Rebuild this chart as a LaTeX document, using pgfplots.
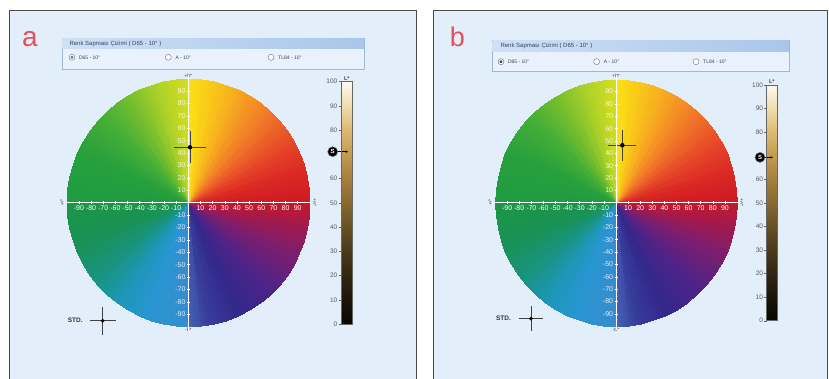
\documentclass[border=0pt]{standalone}
\usepackage{fontspec}
\setmainfont{Liberation Sans}
\usepackage{pgfplots}
\usepackage{pgfplotstable}
\pgfplotsset{compat=1.18}
\usetikzlibrary{arrows.meta}

\definecolor{panelbg}{HTML}{E2EEFA}
\definecolor{framecol}{HTML}{4A4A4A}
\definecolor{hdrbody}{HTML}{E8F1FC}
\definecolor{hdrborder}{HTML}{9FB6D6}
\definecolor{hdrL}{HTML}{CFE0F5}
\definecolor{hdrR}{HTML}{A9C6EA}
\definecolor{hdrtext}{HTML}{34465F}
\definecolor{radioblue}{HTML}{3A7BD5}
\definecolor{labred}{HTML}{E5505A}

\pgfplotstableread[row sep=\\]{
t r m\\
0 0 0\\ 6 0 6\\ 12 0 12\\ 18 0 18\\ 24 0 24\\ 30 0 30\\ 36 0 36\\ 42 0 42\\ 48 0 48\\ 54 0 54\\ 60 0 60\\ 66 0 66\\ 72 0 72\\ 78 0 78\\ 84 0 84\\ 90 0 90\\
90 0 100\\ 96 0 106\\ 102 0 112\\ 108 0 118\\ 114 0 124\\ 120 0 130\\ 126 0 136\\ 132 0 142\\ 138 0 148\\ 144 0 154\\ 150 0 160\\ 156 0 166\\ 162 0 172\\ 168 0 178\\ 174 0 184\\ 180 0 190\\
180 0 200\\ 186 0 206\\ 192 0 212\\ 198 0 218\\ 204 0 224\\ 210 0 230\\ 216 0 236\\ 222 0 242\\ 228 0 248\\ 234 0 254\\ 240 0 260\\ 246 0 266\\ 252 0 272\\ 258 0 278\\ 264 0 284\\ 270 0 290\\
270 0 300\\ 276 0 306\\ 282 0 312\\ 288 0 318\\ 294 0 324\\ 300 0 330\\ 306 0 336\\ 312 0 342\\ 318 0 348\\ 324 0 354\\ 330 0 360\\ 336 0 366\\ 342 0 372\\ 348 0 378\\ 354 0 384\\ 360 0 390\\
0 100 0\\ 6 100 6\\ 12 100 12\\ 18 100 18\\ 24 100 24\\ 30 100 30\\ 36 100 36\\ 42 100 42\\ 48 100 48\\ 54 100 54\\ 60 100 60\\ 66 100 66\\ 72 100 72\\ 78 100 78\\ 84 100 84\\ 90 100 90\\
90 100 100\\ 96 100 106\\ 102 100 112\\ 108 100 118\\ 114 100 124\\ 120 100 130\\ 126 100 136\\ 132 100 142\\ 138 100 148\\ 144 100 154\\ 150 100 160\\ 156 100 166\\ 162 100 172\\ 168 100 178\\ 174 100 184\\ 180 100 190\\
180 100 200\\ 186 100 206\\ 192 100 212\\ 198 100 218\\ 204 100 224\\ 210 100 230\\ 216 100 236\\ 222 100 242\\ 228 100 248\\ 234 100 254\\ 240 100 260\\ 246 100 266\\ 252 100 272\\ 258 100 278\\ 264 100 284\\ 270 100 290\\
270 100 300\\ 276 100 306\\ 282 100 312\\ 288 100 318\\ 294 100 324\\ 300 100 330\\ 306 100 336\\ 312 100 342\\ 318 100 348\\ 324 100 354\\ 330 100 360\\ 336 100 366\\ 342 100 372\\ 348 100 378\\ 354 100 384\\ 360 100 390\\
}\wheeltab

\pgfplotstableread[row sep=\\]{
x y\\
0 0\\ 1 0\\ 0 10\\ 1 10\\ 0 20\\ 1 20\\ 0 30\\ 1 30\\ 0 40\\ 1 40\\ 0 50\\ 1 50\\
0 60\\ 1 60\\ 0 70\\ 1 70\\ 0 80\\ 1 80\\ 0 90\\ 1 90\\ 0 100\\ 1 100\\
}\lbartab

\pgfplotsset{
  wheel/.style={
    scale only axis, anchor=center, clip=false,
    xmin=-100, xmax=100, ymin=-100, ymax=100,
    axis lines=middle, axis on top,
    axis line style={-, draw=white, line width=0.8pt, shorten >=-4pt, shorten <=-4pt},
    xtick={-90,-80,-70,-60,-50,-40,-30,-20,-10,10,20,30,40,50,60,70,80,90},
    ytick={-90,-80,-70,-60,-50,-40,-30,-20,-10,10,20,30,40,50,60,70,80,90},
    major tick length=3pt, tick align=center,
    tick style={white, line width=0.5pt},
    ticklabel style={font=\fontsize{7}{8}\selectfont, text=white, inner sep=1.2pt},
    yticklabel style={text opacity=0.85},
    /pgf/number format/assume math mode=true,
    colormap={wheelmap}{
      rgb255(0pt)=(205,25,35) rgb255(15pt)=(218,40,36) rgb255(30pt)=(230,70,40)
      rgb255(50pt)=(242,125,40) rgb255(70pt)=(248,180,30) rgb255(90pt)=(250,225,20)
      rgb255(100pt)=(215,222,30) rgb255(115pt)=(175,210,40) rgb255(130pt)=(120,190,45)
      rgb255(145pt)=(70,175,55) rgb255(165pt)=(40,160,60) rgb255(190pt)=(30,155,65)
      rgb255(200pt)=(28,150,70) rgb255(220pt)=(25,145,85) rgb255(240pt)=(25,148,130)
      rgb255(255pt)=(30,150,185) rgb255(270pt)=(40,150,210) rgb255(290pt)=(55,140,205)
      rgb255(300pt)=(70,100,180) rgb255(310pt)=(55,60,155) rgb255(325pt)=(50,40,140)
      rgb255(345pt)=(80,35,135) rgb255(365pt)=(125,30,110) rgb255(380pt)=(165,25,75)
      rgb255(390pt)=(195,25,45)
    },
    point meta min=0, point meta max=390,
  },
  crossstyle/.style={only marks, mark=*, mark size=2pt, color=black,
    error bars/x dir=both, error bars/y dir=both, error bars/error mark=none,
    error bars/error bar style={line width=0.6pt, color=black!75}},
  smark/.style={only marks, mark=*, mark size=5pt, black,
    mark options={draw=black!55, line width=0.5pt},
    point meta=explicit symbolic,
    nodes near coords, nodes near coords align=center,
    every node near coord/.append style={text=white, font=\fontsize{6}{6}\selectfont\bfseries, inner sep=0pt, anchor=center}},
  lbar/.style={
    scale only axis, anchor=south west, clip=false,
    xmin=0, xmax=1, ymin=0, ymax=100,
    xtick=\empty, ytick={0,10,20,30,40,50,60,80,90,100},
    ytick pos=left, tick align=outside, major tick length=2.5pt,
    tick style={black!60, line width=0.4pt},
    axis line style={draw=black!60, line width=0.5pt},
    yticklabel style={font=\fontsize{6.5}{7}\selectfont, text=black!65, inner sep=1pt},
    /pgf/number format/assume math mode=true,
    colormap={lmap}{
      rgb255(0pt)=(8,6,3) rgb255(10pt)=(28,20,10) rgb255(20pt)=(50,38,18)
      rgb255(30pt)=(75,57,27) rgb255(40pt)=(105,80,37) rgb255(50pt)=(135,104,48)
      rgb255(60pt)=(165,128,60) rgb255(70pt)=(195,155,80) rgb255(80pt)=(220,185,115)
      rgb255(90pt)=(240,220,170) rgb255(100pt)=(253,250,240)
    },
    point meta min=0, point meta max=100, axis on top,
  },
}

\begin{document}
\begin{tikzpicture}
\fill[white] (0pt,0pt) rectangle (829pt,-379pt);
% panels
\filldraw[fill=panelbg, draw=framecol, line width=0.9pt] (9.5pt,-10.3pt) rectangle (416pt,-392pt);
\filldraw[fill=panelbg, draw=framecol, line width=0.9pt] (433pt,-10.3pt) rectangle (827pt,-392pt);
% panel letters
\node[anchor=base, text=labred, font=\fontsize{28}{28}\selectfont] at (30pt,-46.5pt) {a};
\node[anchor=base, text=labred, font=\fontsize{27}{27}\selectfont] at (457.5pt,-47pt) {b};
% header a
\filldraw[fill=hdrbody, draw=hdrborder, line width=0.5pt] (62pt,-38.3pt) rectangle (364.3pt,-69.3pt);
\shade[left color=hdrL, right color=hdrR] (62.3pt,-38.6pt) rectangle (364pt,-49pt);
\node[anchor=west, font=\fontsize{6}{6.5}\selectfont, text=hdrtext] at (66pt,-43.8pt) {Renk Sapması Çizimi ( D65 - 10° )};
\filldraw[fill=white, draw=black!55, line width=0.4pt] (72pt,-57.3pt) circle (3pt);
\fill[radioblue] (72pt,-57.3pt) circle (1.7pt);
\node[anchor=west, font=\fontsize{5}{5.5}\selectfont, text=hdrtext] at (75.5pt,-57.3pt) {D65 - 10°};
\filldraw[fill=white, draw=black!55, line width=0.4pt] (168.3pt,-57.3pt) circle (3pt);
\node[anchor=west, font=\fontsize{5}{5.5}\selectfont, text=hdrtext] at (172pt,-57.3pt) {A - 10°};
\filldraw[fill=white, draw=black!55, line width=0.4pt] (271pt,-57.3pt) circle (3pt);
\node[anchor=west, font=\fontsize{5}{5.5}\selectfont, text=hdrtext] at (274.7pt,-57.3pt) {TL84 - 10°};
% header b
\filldraw[fill=hdrbody, draw=hdrborder, line width=0.5pt] (492.3pt,-40.7pt) rectangle (789pt,-71pt);
\shade[left color=hdrL, right color=hdrR] (492.6pt,-41pt) rectangle (788.7pt,-51.5pt);
\node[anchor=west, font=\fontsize{6}{6.5}\selectfont, text=hdrtext] at (497pt,-46.3pt) {Renk Sapması Çizimi ( D65 - 10° )};
\filldraw[fill=white, draw=black!60, line width=0.4pt] (501pt,-61.7pt) circle (3pt);
\fill[black!75] (501pt,-61.7pt) circle (1.6pt);
\node[anchor=west, font=\fontsize{5}{5.5}\selectfont, text=hdrtext] at (504.5pt,-61.7pt) {D65 - 10°};
\filldraw[fill=white, draw=black!55, line width=0.4pt] (596.7pt,-61.7pt) circle (3pt);
\node[anchor=west, font=\fontsize{5}{5.5}\selectfont, text=hdrtext] at (600.4pt,-61.7pt) {A - 10°};
\filldraw[fill=white, draw=black!55, line width=0.4pt] (696pt,-61.7pt) circle (3pt);
\node[anchor=west, font=\fontsize{5}{5.5}\selectfont, text=hdrtext] at (699.7pt,-61.7pt) {TL84 - 10°};

% ---------- panel a wheel ----------
\begin{axis}[wheel, at={(188.3pt,-202.7pt)}, width=243.2pt, height=248pt]
\addplot[surf, shader=interp, data cs=polar, point meta=explicit, mesh/rows=2, mesh/cols=64] table[x=t, y=r, meta=m] {\wheeltab};
\addplot[crossstyle, error bars/x fixed=13, error bars/y fixed=13] coordinates {(1.4,44.7)};
\addplot[crossstyle, mark size=1.7pt, error bars/x fixed=10.7, error bars/y fixed=11.3] coordinates {(-70.4,-95.2)};
\node[anchor=east, font=\fontsize{6.5}{7}\selectfont\bfseries, text=black!80] at (axis cs:-84,-95.2) {STD.};
\node[anchor=south, font=\fontsize{5}{5}\selectfont, text=black!75, inner sep=0.5pt] at (axis cs:0,100.5) {+b*};
\node[anchor=north, font=\fontsize{5}{5}\selectfont, text=black!75, inner sep=0.5pt] at (axis cs:0,-100.5) {-b*};
\node[rotate=90, anchor=south, font=\fontsize{5}{5}\selectfont, text=black!75, inner sep=0.5pt] at (axis cs:-102,0) {-a*};
\node[rotate=-90, anchor=south, font=\fontsize{5}{5}\selectfont, text=black!75, inner sep=0.5pt] at (axis cs:102,0) {+a*};
\end{axis}

% ---------- panel a L* bar ----------
\begin{axis}[lbar, at={(341pt,-324pt)}, width=11.7pt, height=242.3pt]
\addplot[surf, shader=interp, point meta=y, mesh/rows=11, mesh/cols=2] table {\lbartab};
\addplot[black, line width=0.5pt, -{Stealth[length=2.5pt,width=2.2pt]}] coordinates {(-0.3,71.1) (0.6,71.1)};
\addplot[smark] coordinates {(-0.71,71.1) [S]};
\node[anchor=south, font=\fontsize{5.5}{6}\selectfont\bfseries, text=black!75, inner sep=0.8pt] at (axis cs:0.5,100) {L*};
\end{axis}

% ---------- panel b wheel ----------
\begin{axis}[wheel, at={(616pt,-202.7pt)}, width=242pt, height=247pt]
\addplot[surf, shader=interp, data cs=polar, point meta=explicit, mesh/rows=2, mesh/cols=64] table[x=t, y=r, meta=m] {\wheeltab};
\addplot[crossstyle, error bars/x fixed=11.6, error bars/y fixed=12.5] coordinates {(5.2,46.5)};
\addplot[crossstyle, mark size=1.7pt, error bars/x fixed=10.2, error bars/y fixed=10.1] coordinates {(-70.3,-93.8)};
\node[anchor=east, font=\fontsize{6.5}{7}\selectfont\bfseries, text=black!80] at (axis cs:-84,-93.8) {STD.};
\node[anchor=south, font=\fontsize{5}{5}\selectfont, text=black!75, inner sep=0.5pt] at (axis cs:0,100.5) {+b*};
\node[anchor=north, font=\fontsize{5}{5}\selectfont, text=black!75, inner sep=0.5pt] at (axis cs:0,-100.5) {-b*};
\node[rotate=90, anchor=south, font=\fontsize{5}{5}\selectfont, text=black!75, inner sep=0.5pt] at (axis cs:-102,0) {-a*};
\node[rotate=-90, anchor=south, font=\fontsize{5}{5}\selectfont, text=black!75, inner sep=0.5pt] at (axis cs:102,0) {+a*};
\end{axis}

% ---------- panel b L* bar ----------
\begin{axis}[lbar, at={(766.7pt,-320.7pt)}, width=10.3pt, height=235.7pt]
\addplot[surf, shader=interp, point meta=y, mesh/rows=11, mesh/cols=2] table {\lbartab};
\addplot[black, line width=0.5pt, -{Stealth[length=2.5pt,width=2.2pt]}] coordinates {(-0.2,69.3) (0.6,69.3)};
\addplot[smark] coordinates {(-0.65,69.3) [S]};
\node[anchor=south, font=\fontsize{5.5}{6}\selectfont\bfseries, text=black!75, inner sep=0.8pt] at (axis cs:0.5,100) {L*};
\end{axis}

\pgfresetboundingbox
\useasboundingbox (0pt,0pt) rectangle (829pt,-379pt);
\end{tikzpicture}
\end{document}
